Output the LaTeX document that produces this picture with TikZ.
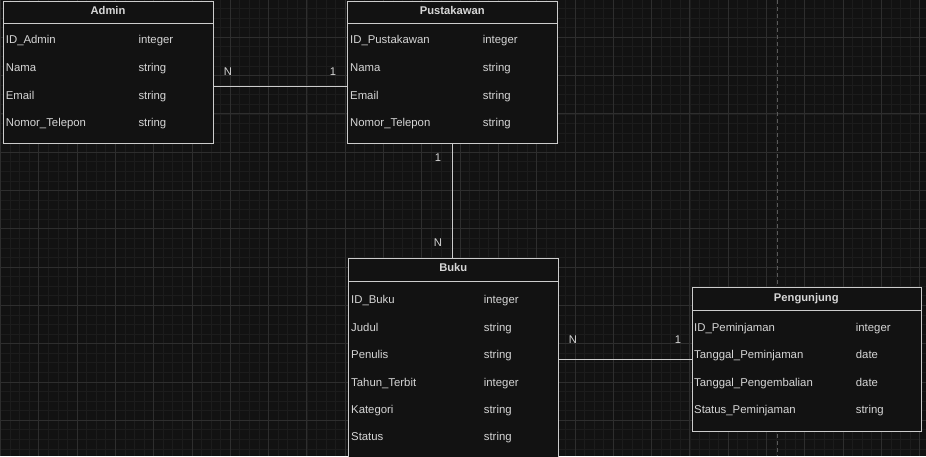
\documentclass[tikz,border=0pt]{standalone}
\usepackage{fontspec}
\setmainfont{Liberation Sans}
\definecolor{bgc}{HTML}{121212}
\definecolor{minorg}{HTML}{1C1C1C}
\definecolor{majorg}{HTML}{2E2E2E}
\definecolor{linec}{HTML}{CCCCCC}
\definecolor{textc}{HTML}{D6D6D6}
\definecolor{dashc}{HTML}{5A5A5A}
\tikzset{
  entity/.style={draw=linec, fill=bgc, line width=0.9pt, anchor=north west, inner sep=0pt},
  hdr/.style={font=\fontsize{11.2}{13}\selectfont\bfseries, text=textc, inner sep=0pt, anchor=base},
  fld/.style={font=\fontsize{11.35}{13}\selectfont, text=textc, inner sep=0pt, anchor=base west},
  card/.style={font=\fontsize{11.2}{13}\selectfont, text=textc, inner sep=0pt, anchor=center},
  conn/.style={draw=linec, line width=0.9pt},
  divline/.style={draw=linec, line width=0.9pt}
}
\begin{document}
\begin{tikzpicture}[x=1pt,y=-1pt]
\useasboundingbox (0,0) rectangle (926,456);
\clip (0,0) rectangle (926,456);
\fill[bgc] (0,0) rectangle (926,456);
% grid
\foreach \i in {0,...,97} \draw[minorg, line width=0.8pt] (0.5+\i*9.575,0) -- (0.5+\i*9.575,456);
\foreach \i in {0,...,48} \draw[minorg, line width=0.8pt] (0,-1+\i*9.575) -- (926,-1+\i*9.575);
\foreach \i in {0,...,24} \draw[majorg, line width=0.9pt] (0.5+\i*38.3,0) -- (0.5+\i*38.3,456);
\foreach \i in {0,...,12} \draw[majorg, line width=0.9pt] (0,-1+\i*38.3) -- (926,-1+\i*38.3);
\draw[dashc, line width=0.9pt, dash pattern=on 4pt off 3pt] (777.3,0) -- (777.3,456);

% Admin
\node[entity, minimum width=210pt, minimum height=142pt] (admin) at (3,1) {};
\draw[divline] ([yshift=-22.5pt]admin.north west) -- ([yshift=-22.5pt]admin.north east);
\node[hdr] (adminH) at (108,14) {Admin};
\node[fld] (a1) at (5.7,43) {ID\_Admin};
\node[fld] (a1t) at (138.3,43) {integer};
\node[fld] (a2) at (5.7,71) {Nama};
\node[fld] (a2t) at (138.3,71) {string};
\node[fld] (a3) at (5.7,99) {Email};
\node[fld] (a3t) at (138.3,99) {string};
\node[fld] (a4) at (5.7,126.5) {Nomor\_Telepon};
\node[fld] (a4t) at (138.3,126.5) {string};

% Pustakawan
\node[entity, minimum width=210pt, minimum height=142pt] (pust) at (347.3,1) {};
\draw[divline] ([yshift=-22.5pt]pust.north west) -- ([yshift=-22.5pt]pust.north east);
\node[hdr] (pustH) at (452.3,14) {Pustakawan};
\node[fld] (p1) at (350,43) {ID\_Pustakawan};
\node[fld] (p1t) at (482.7,43) {integer};
\node[fld] (p2) at (350,71) {Nama};
\node[fld] (p2t) at (482.7,71) {string};
\node[fld] (p3) at (350,99) {Email};
\node[fld] (p3t) at (482.7,99) {string};
\node[fld] (p4) at (350,126.5) {Nomor\_Telepon};
\node[fld] (p4t) at (482.7,126.5) {string};

% Buku
\node[entity, minimum width=210pt, minimum height=215pt] (buku) at (348.3,258.3) {};
\draw[divline] ([yshift=-23.4pt]buku.north west) -- ([yshift=-23.4pt]buku.north east);
\node[hdr] (bukuH) at (453.3,271.7) {Buku};
\node[fld] (b1) at (351,303) {ID\_Buku};
\node[fld] (b1t) at (483.7,303) {integer};
\node[fld] (b2) at (351,331) {Judul};
\node[fld] (b2t) at (483.7,331) {string};
\node[fld] (b3) at (351,358) {Penulis};
\node[fld] (b3t) at (483.7,358) {string};
\node[fld] (b4) at (351,386) {Tahun\_Terbit};
\node[fld] (b4t) at (483.7,386) {integer};
\node[fld] (b5) at (351,413) {Kategori};
\node[fld] (b5t) at (483.7,413) {string};
\node[fld] (b6) at (351,440) {Status};
\node[fld] (b6t) at (483.7,440) {string};

% Pengunjung
\node[entity, minimum width=229.3pt, minimum height=144pt] (peng) at (691.7,286.7) {};
\draw[divline] ([yshift=-24pt]peng.north west) -- ([yshift=-24pt]peng.north east);
\node[hdr] (pengH) at (806.3,301.5) {Pengunjung};
\node[fld] (g1) at (694,331) {ID\_Peminjaman};
\node[fld] (g1t) at (855.7,331) {integer};
\node[fld] (g2) at (694,358) {Tanggal\_Peminjaman};
\node[fld] (g2t) at (855.7,358) {date};
\node[fld] (g3) at (694,386) {Tanggal\_Pengembalian};
\node[fld] (g3t) at (855.7,386) {date};
\node[fld] (g4) at (694,413) {Status\_Peminjaman};
\node[fld] (g4t) at (855.7,413) {string};

% connectors
\draw[conn] ([yshift=-85.5pt]admin.north east) -- ([yshift=-85.5pt]pust.north west);
\draw[conn] (pust.south) -- (pust.south |- buku.north);
\draw[conn] (peng.west -| buku.east) -- (peng.west);

% cardinalities
\node[card] (c1) at (228,72) {N};
\node[card] (c2) at (333,72) {1};
\node[card] (c3) at (438,158) {1};
\node[card] (c4) at (438,243) {N};
\node[card] (c5) at (573,339.5) {N};
\node[card] (c6) at (678,339.5) {1};
\end{tikzpicture}
\end{document}
